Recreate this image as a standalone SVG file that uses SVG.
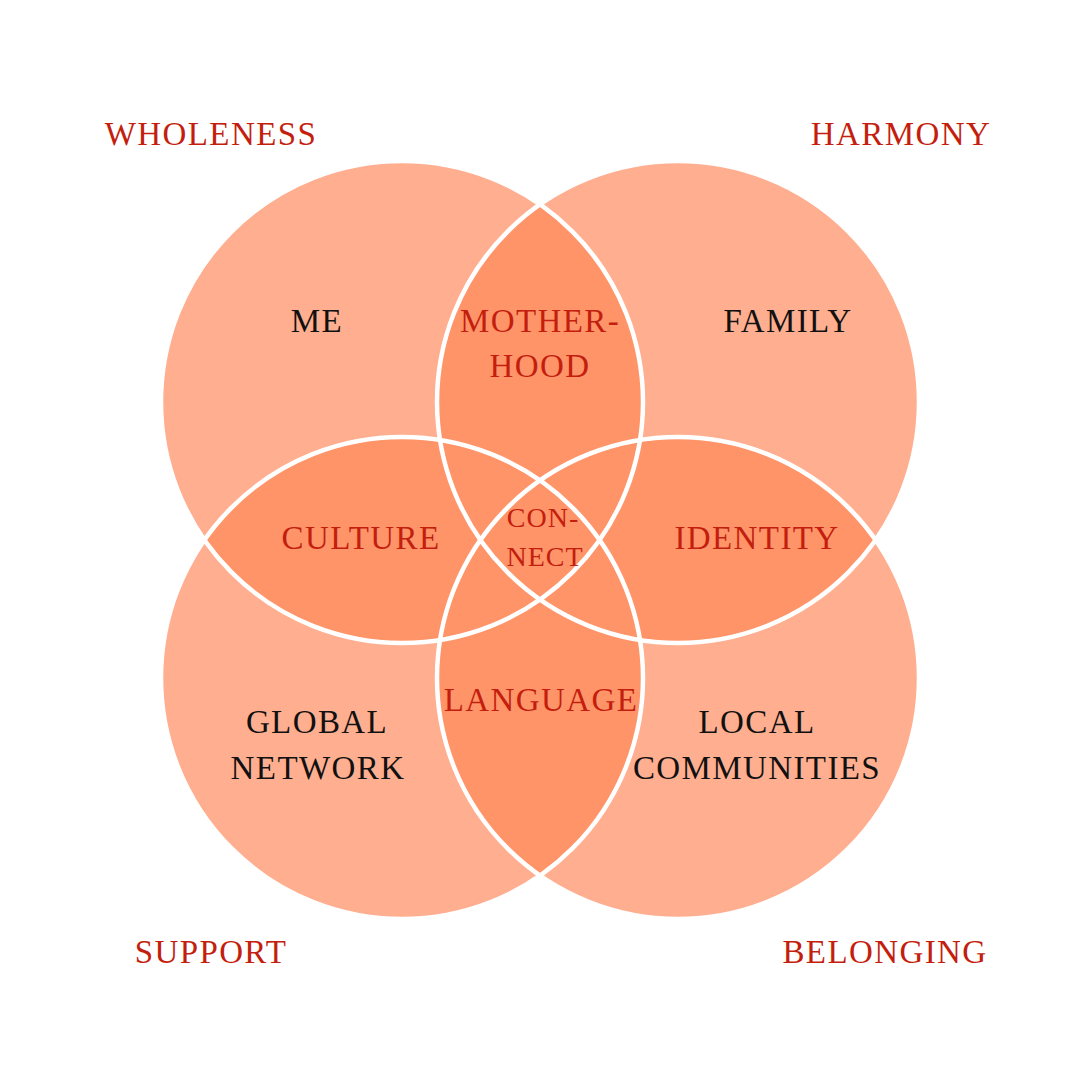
<svg xmlns="http://www.w3.org/2000/svg" width="1080" height="1080" viewBox="0 0 1080 1080">
<style>
.c{fill:#FFAE8F}
.o{fill:#FF9469}
.s{fill:none;stroke:#fff;stroke-width:4.5}
text{font-family:"Liberation Serif","DejaVu Serif",serif;font-size:33px;letter-spacing:1.4px;text-anchor:middle}
.r{fill:#C41E0E}
.k{fill:#111}
.sm{font-size:28px;letter-spacing:1px}
</style>
<defs>
<clipPath id="cTL"><circle cx="402" cy="402" r="241"/></clipPath>
<clipPath id="cTR"><circle cx="678" cy="402" r="241"/></clipPath>
<clipPath id="cBL"><circle cx="402" cy="678" r="241"/></clipPath>
<clipPath id="cBR"><circle cx="678" cy="678" r="241"/></clipPath>
</defs>
<rect width="1080" height="1080" fill="#fff"/>
<g id="circles">
<circle class="c" cx="402" cy="402" r="241"/>
<circle class="c" cx="678" cy="402" r="241"/>
<circle class="c" cx="402" cy="678" r="241"/>
<circle class="c" cx="678" cy="678" r="241"/>
</g>
<g id="overlaps">
<circle class="o" cx="678" cy="402" r="241" clip-path="url(#cTL)"/>
<circle class="o" cx="402" cy="678" r="241" clip-path="url(#cTL)"/>
<circle class="o" cx="678" cy="678" r="241" clip-path="url(#cTL)"/>
<circle class="o" cx="678" cy="678" r="241" clip-path="url(#cTR)"/>
<circle class="o" cx="402" cy="678" r="241" clip-path="url(#cTR)"/>
<circle class="o" cx="678" cy="678" r="241" clip-path="url(#cBL)"/>
</g>
<g id="connectors">
<circle class="s" cx="402" cy="402" r="241"/>
<circle class="s" cx="678" cy="402" r="241"/>
<circle class="s" cx="402" cy="678" r="241"/>
<circle class="s" cx="678" cy="678" r="241"/>
</g>
<g id="corner-labels">
<text class="r" x="211" y="145">WHOLENESS</text>
<text class="r" x="901" y="145">HARMONY</text>
<text class="r" x="211" y="963">SUPPORT</text>
<text class="r" x="885" y="963">BELONGING</text>
</g>
<g id="node-me"><text class="k" x="317" y="332">ME</text></g>
<g id="node-family"><text class="k" x="788" y="332">FAMILY</text></g>
<g id="node-global"><text class="k" x="317" y="733">GLOBAL</text><text class="k" x="318" y="779">NETWORK</text></g>
<g id="node-local"><text class="k" x="757" y="733">LOCAL</text><text class="k" x="757" y="779">COMMUNITIES</text></g>
<g id="node-motherhood"><text class="r" x="540" y="332">MOTHER-</text><text class="r" x="540" y="377">HOOD</text></g>
<g id="node-culture"><text class="r" x="361" y="549">CULTURE</text></g>
<g id="node-identity"><text class="r" x="757" y="549">IDENTITY</text></g>
<g id="node-language"><text class="r" x="541" y="711">LANGUAGE</text></g>
<g id="node-connect"><text class="r sm" x="543" y="527">CON-</text><text class="r sm" x="545" y="566">NECT</text></g>
</svg>
